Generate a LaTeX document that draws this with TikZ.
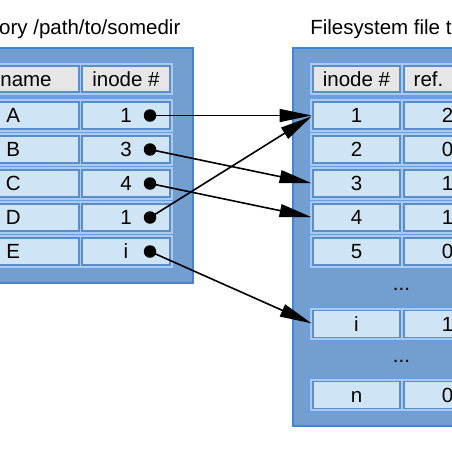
\documentclass[tikz,border=0pt]{standalone}
\usepackage{fontspec}
\setmainfont{Liberation Sans}
\usetikzlibrary{arrows.meta}
\definecolor{outerfill}{HTML}{729FCF}
\definecolor{outerline}{HTML}{3F86D6}
\definecolor{framefill}{HTML}{A9CBF2}
\definecolor{frameline}{HTML}{6A9EE0}
\definecolor{cellfill}{HTML}{CFE5F5}
\definecolor{cellline}{HTML}{5B8DC9}
\definecolor{headfill}{HTML}{E6E6E6}
\begin{document}
\begin{tikzpicture}[x=1pt,y=-1pt,
 every node/.style={inner sep=0pt, outer sep=0pt, font=\fontsize{20.5pt}{24pt}\selectfont},
 outerbox/.style={fill=outerfill, draw=outerline, line width=1.4pt},
 rowframe/.style={rectangle, fill=framefill, draw=frameline, line width=1.2pt, minimum height=34pt},
 cellbox/.style={rectangle, fill=cellfill, draw=cellline, line width=1.2pt, minimum height=27pt, text height=14.6pt, text depth=0pt},
 headcell/.style={cellbox, fill=headfill, minimum height=26pt},
 lbl/.style={anchor=base, text height=14.6pt, text depth=0pt},
 dotn/.style={circle, fill=black, minimum size=12.5pt},
 arr/.style={line width=1.6pt, -{Triangle[length=32pt,width=13pt]}, shorten >=1.5pt}]
\useasboundingbox (0,0) rectangle (452,452);
\clip (0,0) rectangle (452,452);

% outer panels
\draw[outerbox] (-50,48) rectangle (193,283);
\draw[outerbox] (293,48) rectangle (520,426);

% titles
\node[lbl, anchor=base west] (ttl) at (-0.8,35) {ory /path/to/somedir};
\node[lbl, anchor=base west] (ttr) at (310.3,35) {Filesystem file t};

% left table frames
\node[rowframe, minimum width=204.5pt] (lfh) at (71.25,79) {};
\foreach \k/\nm in {0/a,1/b,2/c,3/d,4/e}
  \node[rowframe, minimum width=204.5pt] (lf\nm) at (71.25,115.5+34*\k) {};

% left header cells
\node[headcell, minimum width=106pt] (lhn) at (26,79) {name};
\node[headcell, minimum width=88pt] (lhi) at (126,79) {inode \#};

% left rows
\foreach \k/\nm/\ltr/\val in {0/a/A/1,1/b/B/3,2/c/C/4,3/d/D/1,4/e/E/i}{
  \node[cellbox, minimum width=106pt] (ln\nm) at (26,115.5+34*\k) {};
  \node[cellbox, minimum width=88pt] (li\nm) at (126,115.5+34*\k) {\val};
  \node[lbl] (lt\nm) at (13.3,122.8+34*\k) {\ltr};
}

% right table frames
\node[rowframe, minimum width=186pt] (rfh) at (402,79) {};
\foreach \k in {1,...,5}
  \node[rowframe, minimum width=186pt] (rf\k) at (402,81.5+34*\k) {};
\node[rowframe, minimum width=186pt] (rfi) at (402,324) {};
\node[rowframe, minimum width=186pt] (rfn) at (402,395) {};

% right header
\node[headcell, minimum width=87pt] (rhi) at (356.5,79) {inode \#};
\node[headcell, minimum width=87pt] (rhr) at (447.5,79) {};
\node[lbl, anchor=base west] (tref) at (413.7,86.3) {ref.};

% right rows
\foreach \k/\rc in {1/2,2/0,3/1,4/1,5/0}{
  \node[cellbox, minimum width=87pt] (rc\k) at (356.5,81.5+34*\k) {\k};
  \node[cellbox, minimum width=87pt] (rr\k) at (447.5,81.5+34*\k) {\rc};
}
\node[cellbox, minimum width=87pt] (rci) at (356.5,324) {i};
\node[cellbox, minimum width=87pt] (rri) at (447.5,324) {1};
\node[cellbox, minimum width=87pt] (rcn) at (356.5,395) {n};
\node[cellbox, minimum width=87pt] (rrn) at (447.5,395) {0};

% ellipses
\node[lbl] (el1) at (401.5,290.5) {...};
\node[lbl] (el2) at (401.5,362.5) {...};

% dots
\foreach \k/\nm in {0/a,1/b,2/c,3/d,4/e}
  \node[dotn] (d\nm) at (150,115.5+34*\k) {};

% arrows
\draw[arr] (da.center) -- (rc1.west);
\draw[arr] (db.center) -- (rc3.west);
\draw[arr] (dc.center) -- (rc4.west);
\draw[arr] (dd.center) -- (rc1.west);
\draw[arr] (de.center) -- (rci.west);
\end{tikzpicture}
\end{document}
